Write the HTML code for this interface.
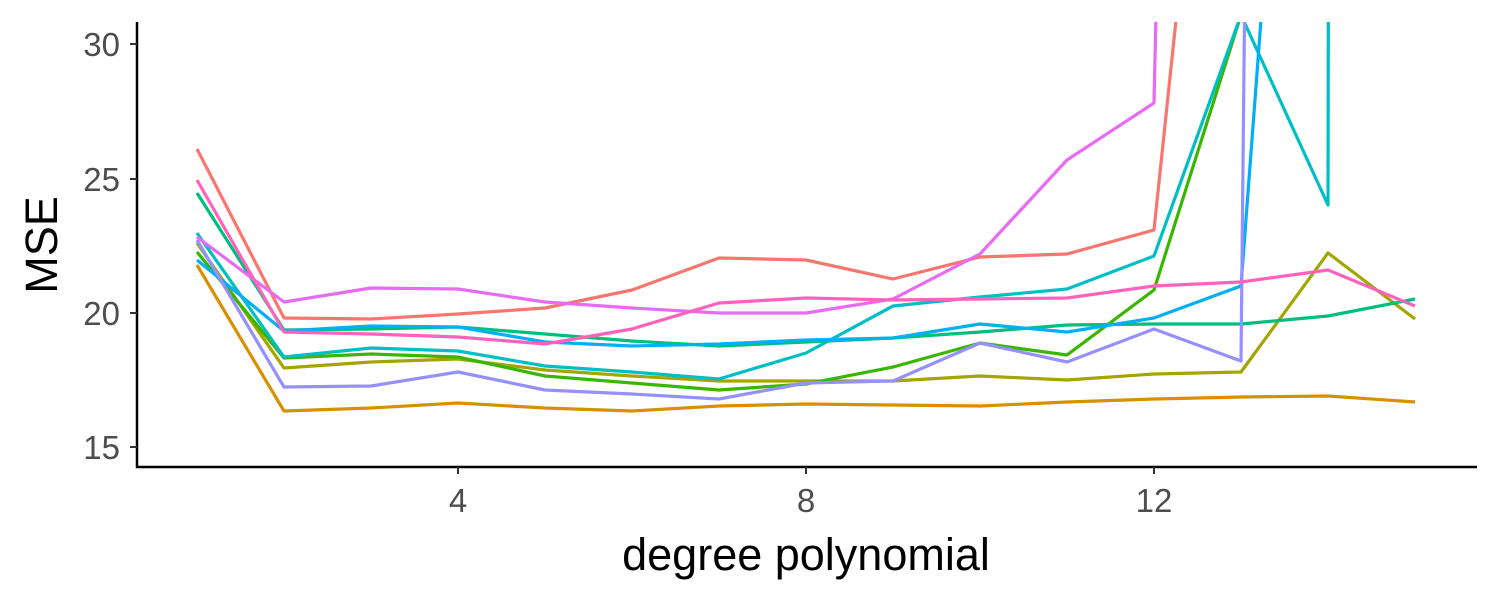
<!DOCTYPE html>
<html><head><style>body{margin:0;background:#fff}svg{display:block}</style></head><body>
<svg width="1500" height="600" xmlns="http://www.w3.org/2000/svg" font-family="Liberation Sans, sans-serif">
<defs><clipPath id="c"><rect x="138" y="22" width="1340" height="444"/></clipPath></defs>
<g clip-path="url(#c)" fill="none" stroke-width="3.2" stroke-linejoin="round">
<polyline stroke="#F8766D" points="197,149 284,318 371,319 458,314 545,308 632,290 719,258 806,260 893,279 980,257 1067,254 1154,230 1241,-600"/>
<polyline stroke="#D89000" points="197,265 284,411 371,408 458,403 545,408 632,411 719,406 806,404 893,405 980,406 1067,402 1154,399 1241,397 1328,396 1415,402"/>
<polyline stroke="#A3A500" points="197,243 284,368 371,362 458,359 545,370 632,376 719,381 806,381 893,381 980,376 1067,380 1154,374 1241,372 1328,253 1415,319"/>
<polyline stroke="#39B600" points="197,252 284,358 371,354 458,357 545,376 632,383 719,390 806,384 893,367 980,343 1067,355 1154,290 1241,15 1328,-300"/>
<polyline stroke="#00BF7D" points="197,193 284,330 371,329 458,327 545,334 632,341 719,346 806,342 893,338 980,332 1067,325 1154,324 1241,324 1328,316 1415,299"/>
<polyline stroke="#00BFC4" points="197,233 284,357 371,348 458,351 545,366 632,372 719,379 806,353 893,306 980,297 1067,289 1154,256 1241,15 1328,205 1330,-1000"/>
<polyline stroke="#00B0F6" points="197,260 284,331 371,326 458,327 545,342 632,346 719,344 806,340 893,338 980,324 1067,332 1154,318 1241,286 1300,-500"/>
<polyline stroke="#9590FF" points="197,240 284,387 371,386 458,372 545,390 632,394 719,399 806,383 893,381 980,343 1067,362 1154,329 1241,361 1265,-2000"/>
<polyline stroke="#E76BF3" points="197,237 284,302 371,288 458,289 545,302 632,308 719,313 806,313 893,299 980,254 1067,160 1154,103 1190,-1500"/>
<polyline stroke="#FF62BC" points="197,180 284,332 371,334 458,337 545,344 632,329 719,303 806,298 893,300 980,299 1067,298 1154,286 1241,282 1328,270 1415,306"/>
</g>
<g stroke="#000" stroke-width="2.5" fill="none">
<polyline points="137,22 137,467 1477,467"/>
</g>
<g stroke="#333" stroke-width="2">
<line x1="130" y1="447" x2="137" y2="447"/><line x1="130" y1="313" x2="137" y2="313"/><line x1="130" y1="179" x2="137" y2="179"/><line x1="130" y1="44" x2="137" y2="44"/>
<line x1="458" y1="467" x2="458" y2="474"/><line x1="806" y1="467" x2="806" y2="474"/><line x1="1154" y1="467" x2="1154" y2="474"/>
</g>
<g fill="#4D4D4D" font-size="33" text-anchor="end">
<text x="120" y="459">15</text><text x="120" y="325">20</text><text x="120" y="191">25</text><text x="120" y="56">30</text>
</g>
<g fill="#4D4D4D" font-size="33" text-anchor="middle">
<text x="458" y="512">4</text><text x="806" y="512">8</text><text x="1154" y="512">12</text>
</g>
<text x="806" y="570" font-size="45" text-anchor="middle" fill="#000">degree polynomial</text>
<text transform="translate(57,245) rotate(-90)" font-size="45" text-anchor="middle" fill="#000">MSE</text>
</svg>
</body></html>
